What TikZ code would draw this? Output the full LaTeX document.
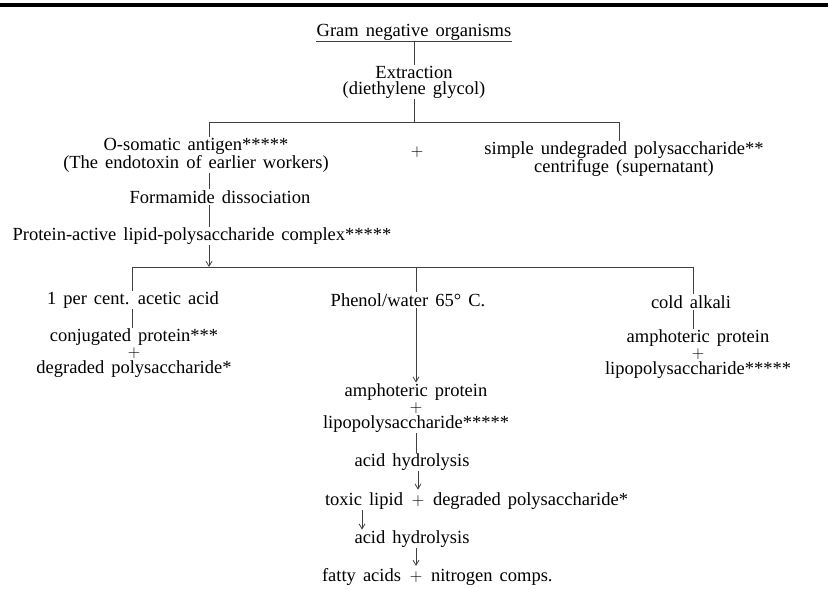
\documentclass[tikz,border=0pt]{standalone}
\usepackage{fontspec}
\setmainfont{Liberation Serif}
\usetikzlibrary{arrows.meta}

\newcommand{\wordgap}{\spaceskip=0.38em plus 0.1em\relax}
\tikzset{
  lbl/.style={inner sep=1pt, outer sep=0pt, align=center,
    font=\fontsize{18.5}{16}\selectfont\wordgap},
  link/.style={draw=black!75, line width=0.8pt},
  arr/.style={link, -{Straight Barb[length=5pt,width=6pt]}}
}

\begin{document}
\begin{tikzpicture}[x=1pt,y=-1pt]
        \useasboundingbox (0,0) rectangle (828,589);

        % ==========================================
        % Top rule and source
        % ==========================================
        \draw[line width=4pt] (0,5) -- (828,5);
        \node[lbl] (gram) at (414,32) {Gram negative organisms};
        \draw[link] (gram.south west) -- (gram.south east);
        \node[lbl] (extract) at (414,82) {Extraction\\(diethylene glycol)};
        \draw[link] (gram.south) -- (extract.north);

        % ==========================================
        % First split
        % ==========================================
        \coordinate (splitL) at (209,122);
        \coordinate (splitR) at (619,122);
        \draw[link] (extract.south) -- (extract.south |- splitL);
        \draw[link] (splitL) -- (splitR);

        \node[lbl] (osomatic) at (196,155) {O-somatic antigen*****\\(The endotoxin of earlier workers)};
        \node[lbl] (plusA) at (417,152) {$+$};
        \node[lbl] (simple) at (624,159) {simple undegraded polysaccharide**\\centrifuge (supernatant)};
        \draw[link] (splitL) -- (splitL |- osomatic.north);
        \draw[link] (splitR) -- (splitR |- simple.north);

        % Left chain down to the complex
        \node[lbl] (formamide) at (220,197) {Formamide dissociation};
        \node[lbl] (complex) at (202,236) {Protein-active lipid-polysaccharide complex*****};
        \draw[link] (osomatic.south -| splitL) -- (formamide.north -| splitL);
        \draw[link] (formamide.south -| splitL) -- (complex.north -| splitL);

        % ==========================================
        % Second split: three treatments
        % ==========================================
        \coordinate (treeL) at (132,267);
        \coordinate (treeM) at (416,267);
        \coordinate (treeR) at (693,267);
        \draw[arr] (complex.south -| splitL) -- (splitL |- treeL);
        \draw[link] (treeL) -- (treeR);

        \node[lbl] (acetic) at (133,300) {1 per cent. acetic acid};
        \node[lbl] (phenol) at (408,300) {Phenol/water 65° C.};
        \node[lbl] (alkali) at (691,302) {cold alkali};
        \draw[link] (treeL) -- (treeL |- acetic.north);
        \draw[link] (treeM) -- (treeM |- phenol.north);
        \draw[link] (treeR) -- (treeR |- alkali.north);

        % Acetic acid branch
        \node[lbl] (conj) at (134,353) {conjugated protein***\\$+$\\degraded polysaccharide*};
        \draw[link] (acetic.south -| treeL) -- (conj.north -| treeL);

        % Cold alkali branch
        \node[lbl] (amphR) at (698,354) {amphoteric protein\\$+$\\lipopolysaccharide*****};
        \draw[link] (alkali.south -| treeR) -- (amphR.north -| treeR);

        % ==========================================
        % Phenol/water branch and hydrolysis
        % ==========================================
        \node[lbl] (amphM) at (416,408) {amphoteric protein\\$+$\\lipopolysaccharide*****};
        \draw[arr] (phenol.south -| treeM) -- (amphM.north -| treeM);

        \node[lbl] (hydroA) at (412,462) {acid hydrolysis};
        \draw[link] (amphM.south -| treeM) -- (hydroA.north -| treeM);

        \node[lbl, anchor=east] (toxic) at (404,501) {toxic lipid};
        \node[lbl] (plusB) at (418,501) {$+$};
        \node[lbl, anchor=west] (degraded) at (432,501) {degraded polysaccharide*};
        \draw[arr] (hydroA.south -| plusB) -- ([yshift=2pt]plusB |- degraded.north);

        \node[lbl] (hydroB) at (412,539) {acid hydrolysis};
        \draw[arr] (toxic.south) ++(-2,0) coordinate (toxicfoot) -- (toxicfoot |- hydroB.north);

        \node[lbl, anchor=east] (fatty) at (402,577) {fatty acids};
        \node[lbl] (plusC) at (416,577) {$+$};
        \node[lbl, anchor=west] (nitrogen) at (430,577) {nitrogen comps.};
        \draw[arr] (hydroB.south -| plusC) -- ([yshift=2pt]plusC |- nitrogen.north);

    \end{tikzpicture}
\end{document}
